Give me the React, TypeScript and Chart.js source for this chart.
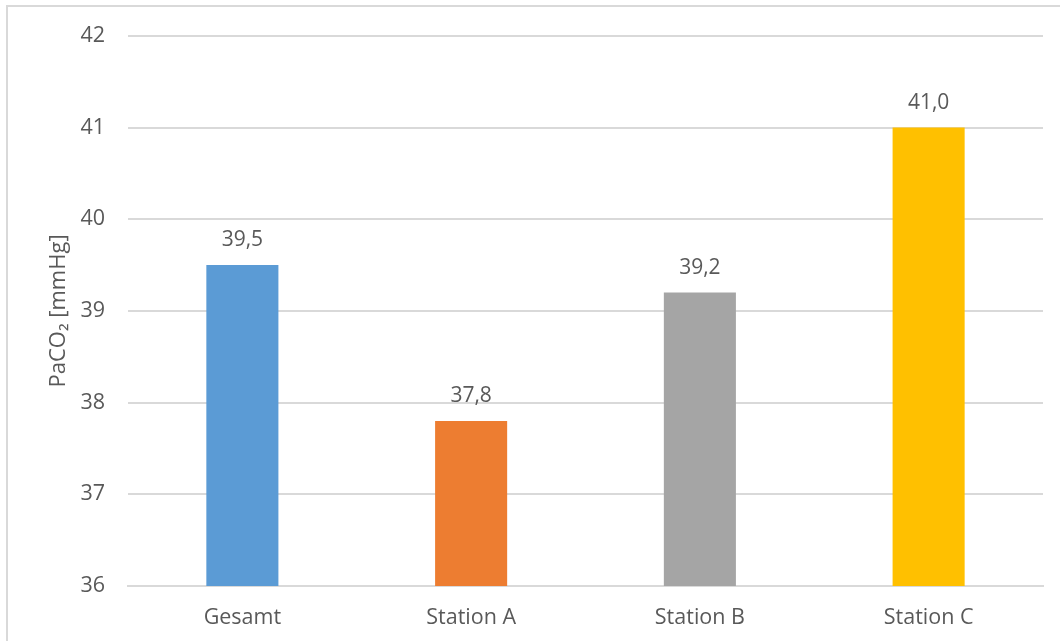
import React, { useEffect, useRef } from "react";
import { Chart, registerables } from "chart.js";

Chart.register(...registerables);

const categories = ["Gesamt", "Station A", "Station B", "Station C"];
const values = [39.5, 37.8, 39.2, 41.0];
const barColors = ["#5B9BD5", "#ED7D31", "#A5A5A5", "#FFC000"];
const yMin = 36;
const yMax = 42;
const yTitle = "PaCO₂ [mmHg]";

const FONT = "'Open Sans', 'DejaVu Sans', sans-serif";
const TEXT = "#595959";
const GRID = "#D9D9D9";

const dataLabelPlugin = {
  id: "dataLabels",
  afterDatasetsDraw(chart: any) {
    const ctx = chart.ctx;
    const meta = chart.getDatasetMeta(0);
    ctx.save();
    ctx.font = `21px ${FONT}`;
    ctx.fillStyle = TEXT;
    ctx.textAlign = "center";
    ctx.textBaseline = "middle";
    meta.data.forEach((bar: any, i: number) => {
      const v = values[i];
      ctx.fillText(v.toFixed(1).replace(".", ","), bar.x, bar.y - 25);
    });
    ctx.restore();
  },
};

export default function App() {
  const ref = useRef<HTMLCanvasElement | null>(null);
  useEffect(() => {
    if (!ref.current) return;
    const chart = new Chart(ref.current, {
      type: "bar",
      data: {
        labels: categories,
        datasets: [
          {
            data: values,
            backgroundColor: barColors,
            borderWidth: 0,
            barPercentage: 0.315,
            categoryPercentage: 1,
          },
        ],
      },
      options: {
        animation: false,
        responsive: false,
        maintainAspectRatio: false,
        layout: { padding: { left: 0, top: 35, right: 17, bottom: 0 } },
        plugins: {
          legend: { display: false },
          tooltip: { enabled: false },
        },
        scales: {
          x: {
            grid: { display: false, drawTicks: false },
            border: { display: true, color: GRID, width: 2 },
            ticks: { color: TEXT, font: { family: FONT, size: 21.5 }, padding: 19 },
            afterFit(scale: any) {
              scale.height = 55;
            },
          },
          y: {
            min: yMin,
            max: yMax,
            grid: { color: GRID, lineWidth: 2, drawTicks: false },
            border: { display: false },
            ticks: {
              stepSize: 1,
              color: TEXT,
              font: { family: FONT, size: 21.5 },
              padding: 23,
            },
            title: {
              display: true,
              text: yTitle,
              color: TEXT,
              font: { family: FONT, size: 22 },
              padding: { top: 46, bottom: 0 },
            },
            afterFit(scale: any) {
              scale.width = 128;
            },
          },
        },
      },
      plugins: [dataLabelPlugin],
    });
    return () => chart.destroy();
  }, []);

  return (
    <div style={{ position: "fixed", left: 0, top: 0, width: 1060, height: 641, background: "#fff", overflow: "hidden" }}>
      <div
        style={{
          position: "absolute",
          left: 6,
          top: 5,
          width: 1070,
          height: 660,
          border: `2px solid ${GRID}`,
          boxSizing: "border-box",
        }}
      />
      <canvas ref={ref} width={1060} height={641} style={{ position: "absolute", left: 0, top: 0 }} />
    </div>
  );
}
